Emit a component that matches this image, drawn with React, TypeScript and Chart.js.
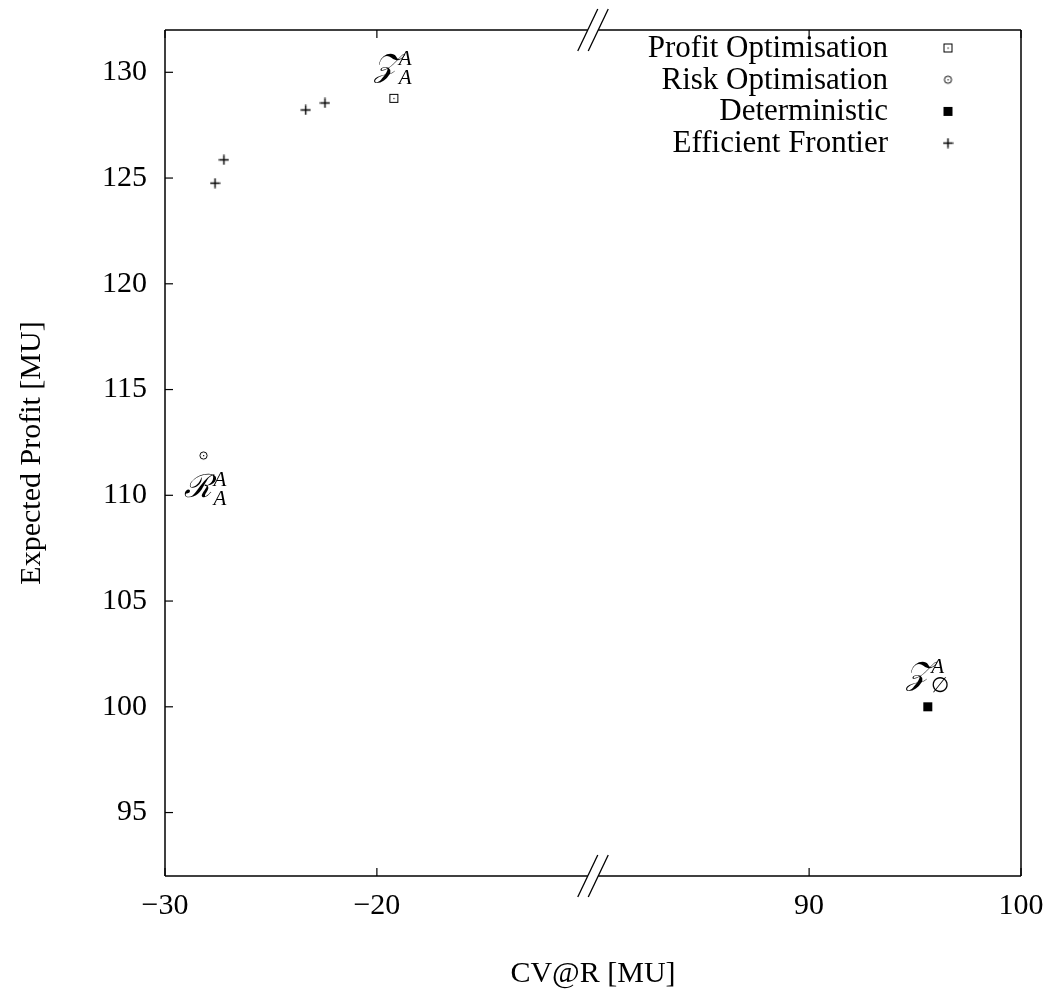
import React, { useEffect, useRef } from "react";
import { Chart, registerables } from "chart.js";

Chart.register(...registerables);

// ---- data ----
const seriesNames = ["Profit Optimisation", "Risk Optimisation", "Deterministic", "Efficient Frontier"];
const profitCvar = [-19.2];
const profitExp = [128.77];
const riskCvar = [-28.18];
const riskExp = [111.88];
const detCvar = [95.6];
const detExp = [100];
const frontierCvar = [-27.64, -27.22, -23.36, -22.45];
const frontierExp = [124.76, 125.86, 128.22, 128.55];
const xTickValues = [-30, -20, 90, 100];
const yTickValues = [95, 100, 105, 110, 115, 120, 125, 130];
const X_MIN = -30;
const X_MAX = 100;
const Y_MIN = 92;
const Y_MAX = 132;
const BREAK_LOW = -10;
const BREAK_HIGH = 80;
const BREAK_GAP = 0.4;

const toAxis = (v: number) => (v <= BREAK_LOW ? v : v - BREAK_HIGH + BREAK_LOW + BREAK_GAP);
const fromAxis = (t: number) => (t <= BREAK_LOW ? t : t + BREAK_HIGH - BREAK_LOW - BREAK_GAP);
const pts = (xs: number[], ys: number[]) => xs.map((v, i) => ({ x: toAxis(v), y: ys[i] }));
const fmt = (v: number) => {
  const r = Math.round(v);
  return r < 0 ? "\u2212" + Math.abs(r) : String(r);
};

const FONT = "'Liberation Serif', 'Times New Roman', serif";

function makeMarker(kind: string): HTMLCanvasElement {
  const c = document.createElement("canvas");
  c.width = 11;
  c.height = 11;
  const g = c.getContext("2d")!;
  g.strokeStyle = "#000";
  g.fillStyle = "#000";
  g.lineWidth = 1;
  if (kind === "boxdot") {
    g.strokeRect(1.5, 1.5, 8, 8);
    g.fillRect(5, 5, 1.2, 1.2);
  } else if (kind === "circdot") {
    g.beginPath();
    g.arc(5.5, 5.5, 3.6, 0, Math.PI * 2);
    g.stroke();
    g.fillRect(5, 5, 1.2, 1.2);
  } else if (kind === "box") {
    g.fillRect(1, 1, 9, 9);
  } else {
    g.lineWidth = 1.4;
    g.beginPath();
    g.moveTo(0.5, 5.5);
    g.lineTo(10.5, 5.5);
    g.moveTo(5.5, 0.5);
    g.lineTo(5.5, 10.5);
    g.stroke();
  }
  return c;
}

function drawMath(ctx: CanvasRenderingContext2D, main: string, sup: string, sub: string, cx: number, base: number) {
  ctx.save();
  ctx.fillStyle = "#000";
  ctx.textAlign = "left";
  ctx.textBaseline = "alphabetic";
  ctx.font = "italic 32px " + FONT;
  const wMain = ctx.measureText(main).width;
  ctx.font = "italic 21px " + FONT;
  const wSup = ctx.measureText(sup).width;
  ctx.font = "21px " + FONT;
  const wSub = ctx.measureText(sub).width;
  const total = wMain + Math.max(wSup, wSub) + 1;
  const x0 = cx - total / 2;
  ctx.font = "italic 32px " + FONT;
  ctx.fillText(main, x0, base);
  ctx.font = "italic 21px " + FONT;
  ctx.fillText(sup, x0 + wMain + 1, base - 11);
  ctx.font = (sub === "A" ? "italic " : "") + "21px " + FONT;
  ctx.fillText(sub, x0 + wMain + 1, base + 8);
  ctx.restore();
}

export default function App() {
  const ref = useRef<HTMLCanvasElement | null>(null);

  useEffect(() => {
    if (!ref.current) return;
    const markers = [makeMarker("boxdot"), makeMarker("circdot"), makeMarker("box"), makeMarker("plus")];

    const framePlugin = {
      id: "framePlugin",
      afterDraw(chart: any) {
        const { ctx, chartArea: a, scales } = chart;
        const xs = scales.x;
        const ys = scales.y;
        ctx.save();
        ctx.strokeStyle = "#000";
        ctx.lineWidth = 1.5;
        const line = (x1: number, y1: number, x2: number, y2: number) => {
          ctx.beginPath();
          ctx.moveTo(x1, y1);
          ctx.lineTo(x2, y2);
          ctx.stroke();
        };
        const bl = xs.getPixelForValue(BREAK_LOW);
        const br = xs.getPixelForValue(toAxis(BREAK_HIGH));
        line(a.left, a.top, a.left, a.bottom);
        line(a.right, a.top, a.right, a.bottom);
        for (const yy of [a.top, a.bottom]) {
          line(a.left, yy, bl - 1, yy);
          line(br + 1, yy, a.right, yy);
        }
        ctx.lineWidth = 1.3;
        for (const yy of [a.top, a.bottom]) {
          for (const xx of [bl - 1, br + 1]) line(xx - 10, yy + 21, xx + 10, yy - 21);
        }
        ctx.lineWidth = 1.2;
        for (const v of xTickValues) {
          const px = xs.getPixelForValue(toAxis(v));
          line(px, a.bottom, px, a.bottom - 8);
          line(px, a.top, px, a.top + 8);
        }
        for (const v of yTickValues) {
          const py = ys.getPixelForValue(v);
          line(a.left, py, a.left + 8, py);
        }
        // legend
        ctx.fillStyle = "#000";
        ctx.font = "31px " + FONT;
        ctx.textAlign = "right";
        ctx.textBaseline = "alphabetic";
        seriesNames.forEach((name, i) => {
          const base = a.top + 27 + i * 31.7;
          ctx.fillText(name, 888, base);
          const m = markers[i];
          ctx.drawImage(m, 948 - m.width / 2, base - 9 - m.height / 2);
        });
        // point annotations
        const p0 = chart.getDatasetMeta(0).data[0];
        const p1 = chart.getDatasetMeta(1).data[0];
        const p2 = chart.getDatasetMeta(2).data[0];
        drawMath(ctx, "\u{1D4B5}", "A", "A", p0.x, p0.y - 22);
        drawMath(ctx, "\u211B", "A", "A", p1.x + 3, p1.y + 41);
        drawMath(ctx, "\u{1D4B5}", "A", "\u2205", p2.x, p2.y - 23);
        ctx.restore();
      },
    };

    const chart = new Chart(ref.current, {
      type: "scatter",
      data: {
        datasets: [
          { label: seriesNames[0], data: pts(profitCvar, profitExp), pointStyle: markers[0] as any, pointRadius: 5 },
          { label: seriesNames[1], data: pts(riskCvar, riskExp), pointStyle: markers[1] as any, pointRadius: 5 },
          { label: seriesNames[2], data: pts(detCvar, detExp), pointStyle: markers[2] as any, pointRadius: 5 },
          { label: seriesNames[3], data: pts(frontierCvar, frontierExp), pointStyle: markers[3] as any, pointRadius: 5 },
        ],
      },
      options: {
        responsive: false,
        animation: false,
        layout: { padding: { top: 30, right: 27, left: 0, bottom: 0 } },
        plugins: {
          legend: { display: false },
          tooltip: { enabled: false },
        },
        scales: {
          x: {
            type: "linear",
            min: X_MIN,
            max: toAxis(X_MAX),
            grid: { display: false, drawTicks: false },
            border: { display: false },
            afterBuildTicks: (s: any) => {
              s.ticks = xTickValues.map((v) => ({ value: toAxis(v) }));
            },
            afterFit: (s: any) => {
              s.height = 125;
              s.paddingLeft = 0;
              s.paddingRight = 0;
            },
            ticks: {
              color: "#000",
              font: { family: FONT, size: 30 },
              padding: 12,
              maxRotation: 0,
              callback: (v: any) => fmt(fromAxis(Number(v))),
            },
            title: {
              display: true,
              text: "CV@R [MU]",
              color: "#000",
              font: { family: FONT, size: 30 },
              padding: { top: 0, bottom: 9 },
            },
          },
          y: {
            type: "linear",
            min: Y_MIN,
            max: Y_MAX,
            grid: { display: false, drawTicks: false },
            border: { display: false },
            afterBuildTicks: (s: any) => {
              s.ticks = yTickValues.map((v) => ({ value: v }));
            },
            afterFit: (s: any) => {
              s.width = 165;
              s.paddingTop = 0;
              s.paddingBottom = 0;
            },
            ticks: {
              color: "#000",
              font: { family: FONT, size: 30 },
              padding: 18,
              callback: (v: any) => fmt(Number(v)),
            },
            title: {
              display: true,
              text: "Expected Profit [MU]",
              color: "#000",
              font: { family: FONT, size: 30 },
              padding: { top: 14, bottom: 0 },
            },
          },
        },
      },
      plugins: [framePlugin],
    } as any);

    return () => chart.destroy();
  }, []);

  return (
    <div style={{ position: "fixed", left: 0, top: 0, width: 1048, height: 1001, background: "#fff" }}>
      <canvas ref={ref} width={1048} height={1001} style={{ display: "block" }} />
    </div>
  );
}
